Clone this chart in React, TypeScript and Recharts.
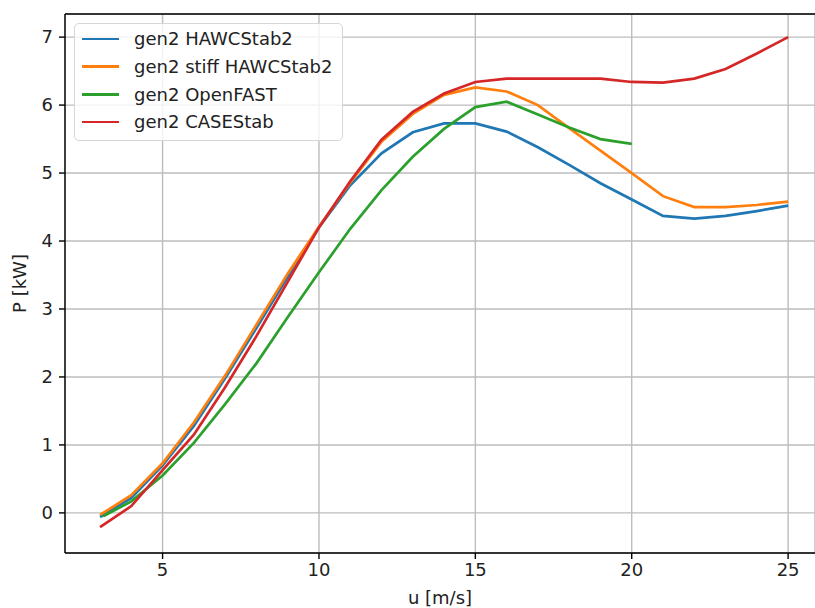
import { LineChart, Line, XAxis, YAxis, CartesianGrid, Legend, ReferenceLine } from "recharts"

// wind speeds [m/s]
const U = [3, 4, 5, 6, 7, 8, 9, 10, 11, 12, 13, 14, 15, 16, 17, 18, 19, 20, 21, 22, 23, 24, 25]
const U_OPENFAST = [3.1, 4, 5, 6, 7, 8, 9, 10, 11, 12, 13, 14, 15, 16, 17, 18, 19, 20]

// power [kW]
const P_HAWC = [-0.06, 0.22, 0.7, 1.28, 1.98, 2.72, 3.47, 4.2, 4.82, 5.29, 5.6, 5.73, 5.73, 5.61, 5.38, 5.12, 4.85, 4.61, 4.37, 4.33, 4.37, 4.44, 4.52]
const P_HAWC_STIFF = [-0.03, 0.26, 0.73, 1.33, 2.02, 2.77, 3.52, 4.21, 4.86, 5.46, 5.87, 6.15, 6.26, 6.2, 6.0, 5.66, 5.33, 5.0, 4.66, 4.5, 4.5, 4.53, 4.58]
const P_OPENFAST = [-0.05, 0.17, 0.55, 1.03, 1.6, 2.2, 2.88, 3.54, 4.18, 4.75, 5.24, 5.65, 5.97, 6.05, 5.86, 5.67, 5.5, 5.43]
const P_CASESTAB = [-0.21, 0.1, 0.63, 1.15, 1.85, 2.6, 3.4, 4.2, 4.88, 5.49, 5.9, 6.17, 6.34, 6.39, 6.39, 6.39, 6.39, 6.34, 6.33, 6.39, 6.53, 6.76, 7.0]

const NAMES = ["gen2 HAWCStab2", "gen2 stiff HAWCStab2", "gen2 OpenFAST", "gen2 CASEStab"]
const COLORS = ["#1f77b4", "#ff7f0e", "#2ca02c", "#d62728"]

const X_TICKS = [5, 10, 15, 20, 25]
const Y_TICKS = [0, 1, 2, 3, 4, 5, 6, 7]
const X_DOMAIN = [1.88, 25.86]
const Y_DOMAIN = [-0.59, 7.34]

const toRows = (us: number[], ps: number[]) => us.map((u, i) => ({ u, p: ps[i] }))

const series = [
    { name: NAMES[0], color: COLORS[0], data: toRows(U, P_HAWC) },
    { name: NAMES[1], color: COLORS[1], data: toRows(U, P_HAWC_STIFF) },
    { name: NAMES[2], color: COLORS[2], data: toRows(U_OPENFAST, P_OPENFAST) },
    { name: NAMES[3], color: COLORS[3], data: toRows(U, P_CASESTAB) },
]

const FONT = "DejaVu Sans"
const tickStyle = { fontFamily: FONT, fontSize: 18, fill: "#222" }

const LegendBox = () => (
    <div style={{
        border: "1px solid #d6d6d6",
        borderRadius: 5,
        background: "rgba(255,255,255,0.8)",
        paddingTop: 1,
        paddingBottom: 4,
        paddingRight: 10,
        fontFamily: FONT,
        fontSize: 18,
        color: "#222",
    }}>
        {series.map(s => (
            <div key={s.name} style={{ display: "flex", alignItems: "center", height: 27.7, whiteSpace: "nowrap" }}>
                <div style={{ width: 37.6, height: 2.7, background: s.color, marginLeft: 6.5, marginRight: 15 }} />
                <span>{s.name}</span>
            </div>
        ))}
    </div>
)

const App = () => {
    return (
        <div style={{ position: "absolute", left: 0, top: 0, width: 815, height: 608, background: "#fff", overflow: "hidden" }}>
            <LineChart width={815} height={608} margin={{ top: 14, right: 0, bottom: 0, left: 0 }}>
                <CartesianGrid stroke="#bdbdbd" strokeWidth={1.4} />
                <XAxis
                    dataKey="u"
                    type="number"
                    domain={X_DOMAIN}
                    ticks={X_TICKS}
                    allowDataOverflow
                    height={55}
                    tick={tickStyle}
                    tickSize={6}
                    tickMargin={4}
                    stroke="#000"
                    strokeWidth={1.4}
                    label={{ value: "u [m/s]", position: "insideBottom", offset: 4, style: { fontFamily: FONT, fontSize: 18, fill: "#222" } }}
                />
                <YAxis
                    type="number"
                    domain={Y_DOMAIN}
                    ticks={Y_TICKS}
                    allowDataOverflow
                    width={65}
                    tick={tickStyle}
                    tickSize={6}
                    tickMargin={6}
                    stroke="#000"
                    strokeWidth={1.4}
                    label={{ value: "P [kW]", angle: -90, position: "insideLeft", offset: 20, style: { fontFamily: FONT, fontSize: 18, fill: "#222", textAnchor: "middle" } }}
                />
                <ReferenceLine y={Y_DOMAIN[1]} stroke="#000" strokeWidth={1.4} />
                {series.map(s => (
                    <Line
                        key={s.name}
                        data={s.data}
                        dataKey="p"
                        name={s.name}
                        type="linear"
                        stroke={s.color}
                        strokeWidth={2.7}
                        dot={false}
                        activeDot={false}
                        isAnimationActive={false}
                    />
                ))}
                <Legend
                    layout="vertical"
                    align="center"
                    verticalAlign="middle"
                    content={<LegendBox />}
                    wrapperStyle={{ left: 74, top: 23, width: "auto", height: "auto" }}
                />
            </LineChart>
        </div>
    )
}

export default App
